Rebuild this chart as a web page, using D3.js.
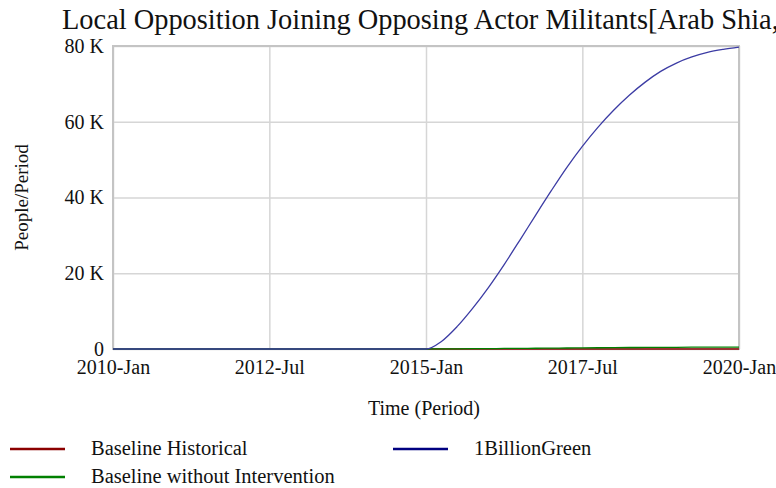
<!DOCTYPE html>
<html lang="en">
<head>
	<meta charset="utf-8">
	<title>Local Opposition Joining Opposing Actor Militants</title>
	<script src="https://d3js.org/d3.v7.min.js"></script>
	<style type="text/css">
		body { margin: 0; background: #fff; overflow: hidden; }
		text { font-family: "Liberation Serif", "Times New Roman", serif; fill: #111; }
	</style>
</head>
<body>
	<script type="text/javascript">
	// data (values in thousands of People/Period)
	var times = ["2010-01", "2014-10", "2015-01", "2015-04", "2015-07", "2015-10",
		"2016-01", "2016-04", "2016-07", "2016-10", "2017-01", "2017-04", "2017-07", "2017-10",
		"2018-01", "2018-04", "2018-07", "2018-10", "2019-01", "2019-04", "2019-07", "2019-10", "2020-01"]
	var billionGreen = [0, 0, 0, 2.0, 5.9, 10.8, 16.3, 22.3, 28.7, 35.3, 41.8, 47.9, 53.5, 58.6,
		63.1, 67.0, 70.4, 73.3, 75.5, 77.1, 78.3, 79.1, 79.7]
	var baselineNoInt = [0, 0, 0, 0.02, 0.05, 0.08, 0.11, 0.14, 0.17, 0.2, 0.23, 0.26, 0.3, 0.33,
		0.36, 0.39, 0.41, 0.43, 0.45, 0.47, 0.48, 0.49, 0.5]
	var baselineHist = [0, 0, 0, 0, 0, 0, 0, 0, 0, 0, 0, 0, 0, 0, 0, 0, 0, 0, 0, 0, 0, 0, 0]
	var xTicks = ["2010-01", "2012-07", "2015-01", "2017-07", "2020-01"]
	var yTicks = [0, 20, 40, 60, 80]

	// plot box
	var w = 776, h = 488
	var pLeft = 113, pRight = 739, pTop = 46, pBottom = 349

	var parseDate = d3.timeParse("%Y-%m")
	var fmtDate = d3.timeFormat("%Y-%b")

	var xScale = d3.scaleTime()
		.domain([parseDate("2010-01"), parseDate("2020-01")])
		.range([pLeft, pRight])
	var yScale = d3.scaleLinear().domain([0, 80]).range([pBottom, pTop])

	var svg = d3.select("body").append("svg")
		.attr("width", w)
		.attr("height", h)

	// title
	svg.append("text")
		.attr("x", 62)
		.attr("y", 29)
		.style("font-size", "28.4px")
		.text("Local Opposition Joining Opposing Actor Militants[Arab Shia,Iraq]")

	// grid
	var gx = svg.append("g")
		.attr("transform", "translate(0," + pBottom + ")")
		.call(d3.axisBottom(xScale).tickValues(xTicks.map(parseDate)).tickSize(-(pBottom - pTop)).tickFormat(""))
	gx.select(".domain").remove()
	gx.selectAll("line").attr("stroke", "#d6d6d6").attr("stroke-width", 1.5)

	var gy = svg.append("g")
		.attr("transform", "translate(" + pLeft + ",0)")
		.call(d3.axisLeft(yScale).tickValues(yTicks).tickSize(-(pRight - pLeft)).tickFormat(""))
	gy.select(".domain").remove()
	gy.selectAll("line").attr("stroke", "#d6d6d6").attr("stroke-width", 1.5)

	// frame
	svg.append("rect")
		.attr("x", pLeft).attr("y", pTop)
		.attr("width", pRight - pLeft).attr("height", pBottom - pTop)
		.attr("fill", "none")
		.attr("stroke", "#c4c4c4")
		.attr("stroke-width", 2)

	// axis labels
	var ax = svg.append("g")
		.attr("transform", "translate(0," + pBottom + ")")
		.call(d3.axisBottom(xScale).tickValues(xTicks.map(parseDate)).tickSize(0).tickPadding(11).tickFormat(fmtDate))
	ax.select(".domain").remove()
	ax.selectAll("text").style("font-size", "20px").attr("fill", "#111")

	var ay = svg.append("g")
		.attr("transform", "translate(" + pLeft + ",0)")
		.call(d3.axisLeft(yScale).tickValues(yTicks).tickSize(0).tickPadding(9)
			.tickFormat(d => d === 0 ? "0" : d + " K"))
	ay.select(".domain").remove()
	ay.selectAll("text").style("font-size", "20px").attr("fill", "#111")

	svg.append("text")
		.attr("x", 424)
		.attr("y", 415)
		.attr("text-anchor", "middle")
		.style("font-size", "20px")
		.text("Time (Period)")

	svg.append("text")
		.attr("transform", "translate(28," + ((pTop + pBottom) / 2) + ") rotate(-90)")
		.attr("text-anchor", "middle")
		.style("font-size", "19px")
		.text("People/Period")

	// lines
	var series = [
		{ name: "Baseline Historical", values: baselineHist, color: "#8b0000", line: "#8b0000" },
		{ name: "Baseline without Intervention", values: baselineNoInt, color: "#008000", line: "#008000" },
		{ name: "1BillionGreen", values: billionGreen, color: "#000080", line: "#3c3ca4" }
	]
	var line = d3.line()
		.x((d, i) => xScale(parseDate(times[i])))
		.y(d => yScale(d))
		.curve(d3.curveMonotoneX)

	series.forEach(function(s) {
		svg.append("path")
			.attr("d", line(s.values))
			.attr("fill", "none")
			.attr("stroke", s.line)
			.attr("stroke-width", 1.3)
	})

	// legend
	var legendPos = [[10, 449], [10, 477], [393, 449]]
	series.forEach(function(s, i) {
		var p = legendPos[i]
		svg.append("line")
			.attr("x1", p[0]).attr("x2", p[0] + 55)
			.attr("y1", p[1]).attr("y2", p[1])
			.attr("stroke", s.color)
			.attr("stroke-width", 2.5)
		svg.append("text")
			.attr("x", p[0] + 81)
			.attr("y", p[1] + 6)
			.style("font-size", "20.5px")
			.text(s.name)
	})
	</script>
</body>
</html>
